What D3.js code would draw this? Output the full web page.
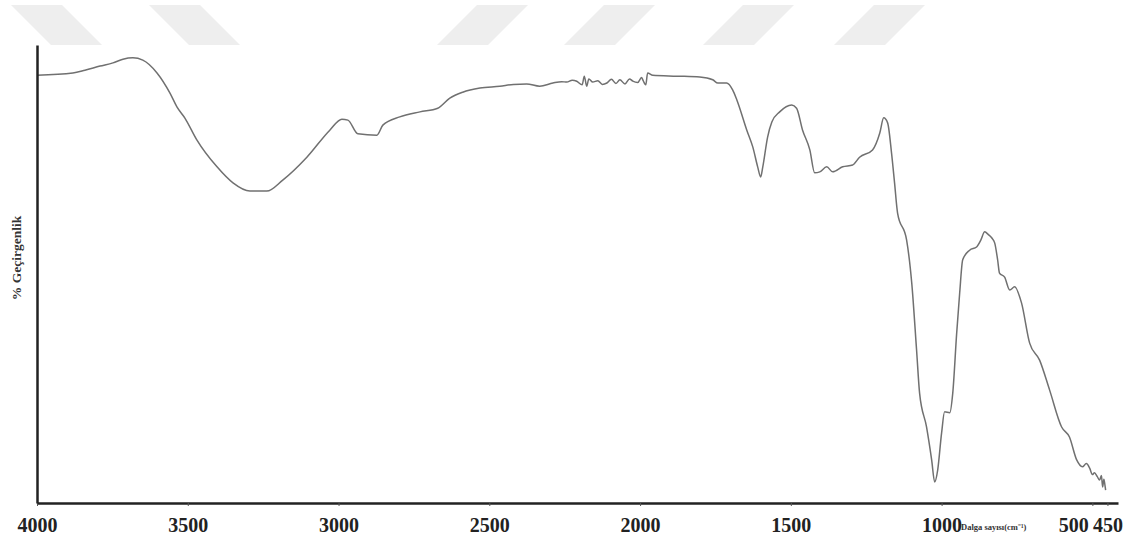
<!DOCTYPE html>
<html>
<head>
<meta charset="utf-8">
<script src="https://cdn.jsdelivr.net/npm/d3@7"></script>
<style>
  body { margin: 0; background: #fff; }
  #chartContainer { width: 1136px; height: 542px; }
  .tick text { font-family: "Liberation Serif", "Times New Roman", serif; font-weight: bold; }
</style>
</head>
<body>
<div id="chartContainer"></div>
<script>
// Chart size and margins
const width = 1136;
const height = 542;
const margin = { top: 45, right: 18, bottom: 39, left: 37 };

// Wavenumbers (cm-1) and % transmittance
const wavenumbers = [
  4000, 3881, 3841, 3791, 3748, 3715, 3682, 3649, 3602, 3559, 3536, 3509, 3470, 3403, 3350, 3294,
  3238, 3185, 3105, 3029, 2989, 2969, 2936, 2873, 2853, 2797, 2730, 2671, 2631, 2588, 2531, 2465,
  2420, 2376, 2333, 2289, 2260, 2243, 2225, 2210, 2192, 2185, 2177, 2170, 2157, 2140, 2125, 2110,
  2095, 2080, 2067, 2050, 2035, 2024, 2008, 1995, 1991, 1985, 1981, 1975, 1958, 1878, 1802, 1759,
  1742, 1713, 1693, 1679, 1646, 1626, 1610, 1600, 1593, 1577, 1563, 1537, 1497, 1481, 1461, 1437,
  1421, 1404, 1381, 1361, 1328, 1295, 1272, 1229, 1205, 1192, 1179, 1166, 1156, 1146, 1116, 1099,
  1083, 1073, 1050, 1033, 1023, 1013, 1000, 990, 973, 963, 950, 940, 930, 907, 884, 870,
  857, 845, 834, 824, 814, 808, 791, 774, 758, 735, 708, 675, 642, 602, 576, 552,
  533, 520, 509, 500, 493, 484, 476, 470, 466, 462, 460, 456
];
const transmittance = [
  93.4, 93.9, 94.5, 95.4, 96.1, 96.9, 97.2, 96.7, 93.9, 89.5, 86.5, 84.0, 79.3, 73.4, 69.9, 68.1,
  68.1, 70.5, 75.5, 81.4, 83.8, 83.6, 80.6, 80.3, 82.5, 84.3, 85.4, 86.2, 88.4, 89.7, 90.6, 91.0,
  91.4, 91.5, 91.0, 91.7, 92.0, 91.9, 92.3, 92.1, 91.3, 93.2, 91.0, 92.6, 91.9, 92.2, 91.4, 91.7,
  92.5, 91.6, 92.4, 91.5, 92.6, 92.1, 91.8, 92.9, 92.4, 91.6, 91.3, 93.9, 93.4, 93.2, 93.0, 92.4,
  91.7, 91.7, 90.2, 88.0, 81.4, 77.7, 73.4, 71.2, 73.4, 79.9, 83.2, 85.4, 86.9, 86.2, 81.4, 77.1,
  72.1, 72.3, 73.4, 72.3, 73.4, 73.8, 75.5, 77.1, 80.8, 84.1, 83.0, 76.4, 69.9, 63.3, 57.4, 48.0,
  33.4, 24.0, 16.6, 9.4, 4.6, 7.2, 15.3, 19.9, 19.7, 24.0, 37.1, 45.9, 53.1, 55.2, 55.9, 57.4,
  59.2, 58.6, 57.9, 56.8, 53.0, 50.2, 49.3, 46.5, 47.2, 43.7, 34.9, 31.2, 24.7, 16.6, 14.4, 9.4,
  7.9, 8.6, 7.6, 6.2, 6.6, 5.8, 5.0, 6.0, 3.5, 5.2, 4.6, 2.8
];
const xTicks = [4000, 3500, 3000, 2500, 2000, 1500, 1000, 500, 450];

const svg = d3.select("#chartContainer")
  .append("svg")
  .attr("width", width)
  .attr("height", height);

// Light grey watermark stripes along the top
const stripeTop = 5, stripeBottom = 45, stripeW = 51, stripeLean = 40;
const stripeStarts = [{ x: 11, dir: 1 }, { x: 149, dir: 1 }, { x: 477, dir: -1 },
  { x: 604, dir: -1 }, { x: 743, dir: -1 }, { x: 874, dir: -1 }];
svg.append("g")
  .selectAll("polygon")
  .data(stripeStarts)
  .enter()
  .append("polygon")
  .attr("points", d => {
    const b = d.x + d.dir * stripeLean;
    return `${d.x},${stripeTop} ${d.x + stripeW},${stripeTop} ${b + stripeW},${stripeBottom} ${b},${stripeBottom}`;
  })
  .attr("fill", "#eeeeee");

// Scales
const x = d3.scaleLinear()
  .domain([4000, 415])
  .range([margin.left, width - margin.right]);

const y = d3.scaleLinear()
  .domain([0, 100])
  .range([height - margin.bottom, margin.top]);

// Spectrum line
const points = wavenumbers.map((w, i) => [w, transmittance[i]]);
svg.append("path")
  .datum(points)
  .attr("fill", "none")
  .attr("stroke", "#707070")
  .attr("stroke-width", 1.5)
  .attr("stroke-linejoin", "round")
  .attr("d", d3.line().curve(d3.curveMonotoneX).x(d => x(d[0])).y(d => y(d[1])));

// x-axis
const xAxis = svg.append("g")
  .attr("transform", `translate(0, ${height - margin.bottom})`)
  .call(d3.axisBottom(x).tickValues(xTicks).tickFormat(d3.format("d"))
    .tickSize(3).tickSizeOuter(0).tickPadding(12));
xAxis.select(".domain").attr("stroke", "#222").attr("stroke-width", 2.5);
xAxis.selectAll(".tick line").attr("stroke", "#555");
xAxis.selectAll(".tick text")
  .attr("font-size", 20)
  .attr("fill", "#222")
  .attr("dx", d => d === 500 ? -19 : 0);

// y-axis (no ticks)
const yAxis = svg.append("g")
  .attr("transform", `translate(${margin.left}, 0)`)
  .call(d3.axisLeft(y).tickValues([]).tickSizeOuter(0));
yAxis.select(".domain").attr("stroke", "#222").attr("stroke-width", 2.5);

// Axis titles
svg.append("text")
  .attr("x", 961)
  .attr("y", height - margin.bottom + 27)
  .attr("font-family", "Liberation Serif, serif")
  .attr("font-weight", "bold")
  .attr("font-size", 8.5)
  .attr("fill", "#333")
  .text("Dalga sayısı(cm⁻¹)");

svg.append("text")
  .attr("transform", "translate(21, 258) rotate(-90)")
  .attr("text-anchor", "middle")
  .attr("font-family", "Liberation Serif, serif")
  .attr("font-weight", "bold")
  .attr("font-size", 13.5)
  .attr("fill", "#333")
  .text("% Geçirgenlik");
</script>
</body>
</html>
